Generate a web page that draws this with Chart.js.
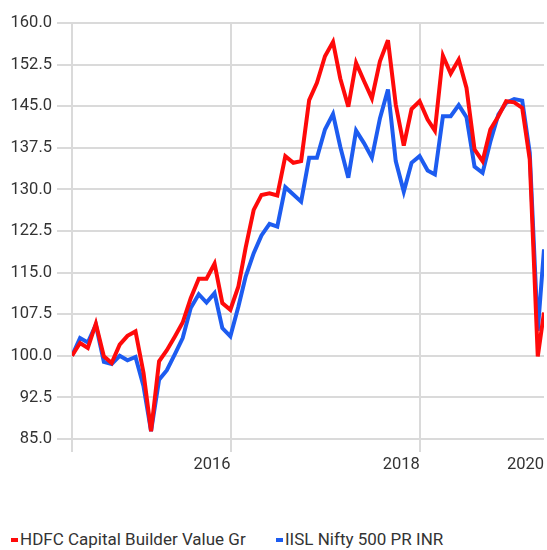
<!DOCTYPE html>
<html>
<head>
<meta charset="utf-8">
<script src="https://cdn.jsdelivr.net/npm/chart.js@4.4.1/dist/chart.umd.min.js"></script>
<style>
  html, body { margin: 0; padding: 0; background: #fff; overflow: hidden; }
  body { width: 547px; height: 550px; position: relative; font-family: 'Roboto', sans-serif; color: #333; }
  #chart { position: absolute; left: 0; top: 0; }
  .mark { position: absolute; top: 538px; width: 7px; height: 4px; }
  .txt { position: absolute; top: 531px; font-size: 17px; line-height: 17px; white-space: nowrap; }
</style>
</head>
<body>
<canvas id="chart" width="547" height="500"></canvas>
<div id="legend"></div>
<script>
// month-end dates, last one is the latest data date
var months = ['2015-04','2015-05','2015-06','2015-07','2015-08','2015-09','2015-10','2015-11','2015-12',
  '2016-01','2016-02','2016-03','2016-04','2016-05','2016-06','2016-07','2016-08','2016-09','2016-10','2016-11','2016-12',
  '2017-01','2017-02','2017-03','2017-04','2017-05','2017-06','2017-07','2017-08','2017-09','2017-10','2017-11','2017-12',
  '2018-01','2018-02','2018-03','2018-04','2018-05','2018-06','2018-07','2018-08','2018-09','2018-10','2018-11','2018-12',
  '2019-01','2019-02','2019-03','2019-04','2019-05','2019-06','2019-07','2019-08','2019-09','2019-10','2019-11','2019-12',
  '2020-01','2020-02','2020-03','2020-04-24'];

var hdfc = [100.0, 102.3, 101.4, 105.8, 99.9, 98.7, 102.0, 103.6, 104.4,
  96.9, 86.4, 99.0, 101.0, 103.5, 106.0, 110.4, 113.9, 113.9, 116.6, 109.5, 108.3,
  112.5, 119.5, 126.3, 129.0, 129.3, 128.9, 136.0, 134.8, 135.1, 146.1, 149.2, 154.0,
  156.6, 150.0, 144.9, 152.8, 149.5, 146.4, 153.1, 156.9, 145.3, 137.9, 144.5, 145.9,
  142.6, 140.6, 154.1, 150.9, 153.4, 148.3, 137.2, 135.1, 140.8, 143.2, 145.9, 145.7,
  144.7, 135.4, 99.9, 107.8];

var nifty = [100.0, 103.2, 102.4, 105.6, 98.9, 98.5, 100.0, 99.2, 99.8,
  94.5, 86.4, 95.7, 97.4, 100.3, 103.2, 108.6, 111.1, 109.6, 111.3, 105.0, 103.5,
  108.9, 114.3, 118.5, 121.7, 123.8, 123.3, 130.4, 129.1, 127.8, 135.7, 135.7, 140.8,
  143.6, 137.7, 132.1, 140.6, 138.3, 135.7, 142.8, 148.0, 135.1, 129.6, 134.8, 136.0,
  133.4, 132.7, 143.2, 143.2, 145.2, 143.0, 134.1, 133.0, 138.6, 143.5, 145.6, 146.3,
  146.0, 136.6, 104.5, 119.2];

var yearLines = ['2017-01-01', '2019-01-01'];
var yearLabels = ['2016', '2018', '2020'];
var seriesNames = ['HDFC Capital Builder Value Gr', 'IISL Nifty 500 PR INR'];
var seriesColors = ['#ff0a0a', '#1d5cf0'];

var fontFam = "'Roboto', sans-serif";
var gridCol = '#dadada';

function toDay(s){
  var p = s.split('-');
  var t = p.length > 2 ? Date.UTC(+p[0], p[1]-1, +p[2]) : Date.UTC(+p[0], +p[1], 0);
  return t / 86400000;
}
var day0 = toDay(months[0]);
var xs = months.map(function(m){ return toDay(m) - day0; });
var xMax = xs[xs.length-1];
var tickVals = [0].concat(yearLines.map(function(d){ return toDay(d) - day0; }), [xMax]);
var tickText = [''].concat(yearLabels);

function pts(arr){
  return arr.map(function(v, i){ return {x: xs[i], y: v}; });
}

// sharp corners get bevelled like in the original (svg miter limit)
var miterFix = {
  id: 'miterFix',
  beforeDatasetsDraw: function(c){ c.ctx.miterLimit = 4; }
};

new Chart(document.getElementById('chart'), {
  type: 'line',
  data: {
    datasets: [
      { label: seriesNames[0], data: pts(hdfc), borderColor: seriesColors[0], borderWidth: 4, pointRadius: 0, tension: 0, fill: false },
      { label: seriesNames[1], data: pts(nifty), borderColor: seriesColors[1], borderWidth: 4, pointRadius: 0, tension: 0, fill: false }
    ]
  },
  options: {
    responsive: false,
    animation: false,
    layout: { padding: { top: 23, right: 0, bottom: 0, left: 0 } },
    plugins: { legend: { display: false }, tooltip: { enabled: false } },
    scales: {
      x: {
        type: 'linear', min: 0, max: xMax,
        border: { display: false },
        grid: {
          color: function(ctx){ return ctx.tick && ctx.tick.value === xMax ? 'rgba(0,0,0,0)' : gridCol; },
          lineWidth: 2, tickLength: 13
        },
        ticks: {
          autoSkip: false, maxRotation: 0, align: 'end', padding: 3,
          color: '#333', font: { family: fontFam, size: 16.5 },
          callback: function(v, i){ return tickText[i]; }
        },
        afterBuildTicks: function(s){ s.ticks = tickVals.map(function(v){ return {value: v}; }); },
        afterFit: function(s){ s.height = 61; }
      },
      y: {
        min: 85, max: 160,
        border: { display: false },
        grid: { color: gridCol, lineWidth: 2, tickLength: 15 },
        ticks: {
          stepSize: 7.5, padding: 5,
          color: '#333', font: { family: fontFam, size: 16.5 },
          callback: function(v){ return v.toFixed(1); }
        },
        afterFit: function(s){ s.width = 72; }
      }
    }
  },
  plugins: [miterFix]
});

// legend under the chart
var legendPos = [11, 276];
var html = '';
for (var i = 0; i < seriesNames.length; i++) {
  html += '<span class="mark" style="left:' + legendPos[i] + 'px;background:' + seriesColors[i] + '"></span>';
  html += '<span class="txt" style="left:' + (legendPos[i] + 9) + 'px">' + seriesNames[i] + '</span>';
}
document.getElementById('legend').innerHTML = html;
</script>
</body>
</html>
